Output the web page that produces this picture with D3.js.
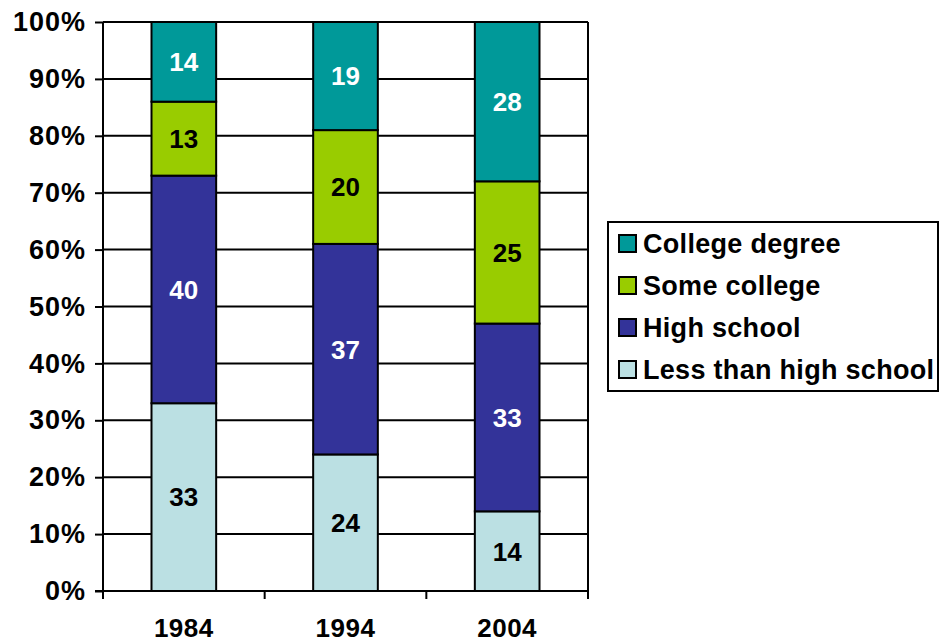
<!DOCTYPE html>
<html>
<head>
<meta charset="utf-8">
<script src="https://cdn.jsdelivr.net/npm/d3@7"></script>
<style>
  body { margin: 0; background: #fff; }
  text { font-family: "Liberation Sans", Arial, sans-serif; font-weight: bold; }
</style>
</head>
<body>
<div id="chart"></div>
<script>
  var
    width = 940,
    height = 644;

  // data
  var years = ['1984', '1994', '2004'];
  var seriesNames = ['Less than high school', 'High school', 'Some college', 'College degree'];
  var lessThanHS = [33, 24, 14];
  var highSchool = [40, 37, 33];
  var someCollege = [13, 20, 25];
  var collegeDegree = [14, 19, 28];
  var yTicks = [0, 10, 20, 30, 40, 50, 60, 70, 80, 90, 100];

  var colors = ['#BBE0E3', '#333399', '#99CC00', '#009999'];
  var labelColors = ['#000', '#fff', '#000', '#fff'];

  var rows = years.map(function(y, i) {
    return {
      year: y,
      'Less than high school': lessThanHS[i],
      'High school': highSchool[i],
      'Some college': someCollege[i],
      'College degree': collegeDegree[i]
    };
  });

  var margin = { left: 103, right: 352, top: 22, bottom: 53 };

  var svg = d3.select('#chart').append('svg')
    .attr('width', width)
    .attr('height', height)
    .style('display', 'block');

  var x = d3.scaleBand()
    .domain(years)
    .range([margin.left, width - margin.right])
    .paddingInner(0.6)
    .paddingOuter(0.3);

  var y = d3.scaleLinear()
    .domain([0, 100])
    .range([height - margin.bottom, margin.top]);

  // horizontal gridlines
  svg.append('g')
    .selectAll('line')
    .data(yTicks.slice(1))
    .enter().append('line')
    .attr('x1', margin.left)
    .attr('x2', width - margin.right)
    .attr('y1', function(d) { return y(d); })
    .attr('y2', function(d) { return y(d); })
    .attr('stroke', '#000')
    .attr('stroke-width', 2);

  // right border
  svg.append('line')
    .attr('x1', width - margin.right).attr('x2', width - margin.right)
    .attr('y1', margin.top).attr('y2', height - margin.bottom)
    .attr('stroke', '#000').attr('stroke-width', 2);

  var stacked = d3.stack().keys(seriesNames)(rows);

  var layer = svg.append('g')
    .selectAll('g')
    .data(stacked)
    .enter().append('g');

  function segs(d) { return d.map(function(p) { return { p: p, key: d.key, idx: d.index }; }); }

  layer.selectAll('rect')
    .data(segs)
    .enter().append('rect')
    .attr('x', function(d) { return x(d.p.data.year); })
    .attr('width', x.bandwidth())
    .attr('y', function(d) { return y(d.p[1]); })
    .attr('height', function(d) { return y(d.p[0]) - y(d.p[1]); })
    .attr('fill', function(d) { return colors[d.idx]; })
    .attr('stroke', '#000')
    .attr('stroke-width', 2);

  layer.selectAll('text')
    .data(segs)
    .enter().append('text')
    .attr('x', function(d) { return x(d.p.data.year) + x.bandwidth() / 2; })
    .attr('y', function(d) { return (y(d.p[0]) + y(d.p[1])) / 2; })
    .attr('dy', '0.36em')
    .attr('text-anchor', 'middle')
    .attr('font-size', 26)
    .attr('fill', function(d) { return labelColors[d.idx]; })
    .text(function(d) { return d.p[1] - d.p[0]; });

  // y axis
  var yAxis = d3.axisLeft(y)
    .tickValues(yTicks)
    .tickSize(8)
    .tickPadding(9)
    .tickFormat(function(d) { return d + '%'; });

  var gy = svg.append('g')
    .attr('transform', 'translate(' + margin.left + ',0)')
    .call(yAxis);
  gy.select('.domain').attr('stroke', '#000').attr('stroke-width', 2).attr('d', 'M0,' + y(0) + 'V' + y(100));
  gy.selectAll('.tick line').attr('stroke-width', 2);
  gy.selectAll('.tick text').attr('font-size', 27).attr('fill', '#000')
    .attr('letter-spacing', 1)
    .attr('font-family', '"Liberation Sans", Arial, sans-serif').attr('font-weight', 'bold');

  // x axis: ticks at category boundaries
  var gx = svg.append('g')
    .attr('transform', 'translate(0,' + y(0) + ')');
  gx.append('line')
    .attr('x1', margin.left - 8).attr('x2', width - margin.right)
    .attr('stroke', '#000').attr('stroke-width', 2);
  var step = (width - margin.right - margin.left) / years.length;
  gx.selectAll('line.tk')
    .data(d3.range(years.length + 1))
    .enter().append('line')
    .attr('class', 'tk')
    .attr('x1', function(i) { return margin.left + i * step; })
    .attr('x2', function(i) { return margin.left + i * step; })
    .attr('y1', 0).attr('y2', 8)
    .attr('stroke', '#000').attr('stroke-width', 2);
  gx.selectAll('text')
    .data(years)
    .enter().append('text')
    .attr('x', function(d) { return x(d) + x.bandwidth() / 2; })
    .attr('y', 46)
    .attr('text-anchor', 'middle')
    .attr('font-size', 26)
    .attr('letter-spacing', 0.5)
    .text(function(d) { return d; });

  // legend
  var legend = svg.append('g').attr('transform', 'translate(608,222)');
  legend.append('rect')
    .attr('x', 0).attr('y', 0)
    .attr('width', 330).attr('height', 169)
    .attr('fill', '#fff')
    .attr('stroke', '#000').attr('stroke-width', 2);

  var legendOrder = seriesNames.slice().reverse();
  var item = legend.selectAll('g.item')
    .data(legendOrder)
    .enter().append('g')
    .attr('class', 'item')
    .attr('transform', function(d, i) { return 'translate(0,' + (21 + i * 42) + ')'; });
  item.append('rect')
    .attr('x', 11).attr('y', -8)
    .attr('width', 17).attr('height', 17)
    .attr('fill', function(d) { return colors[seriesNames.indexOf(d)]; })
    .attr('stroke', '#000').attr('stroke-width', 2);
  item.append('text')
    .attr('x', 35)
    .attr('dy', '0.36em')
    .attr('font-size', 27)
    .attr('letter-spacing', 0.3)
    .text(function(d) { return d; });
</script>
</body>
</html>
